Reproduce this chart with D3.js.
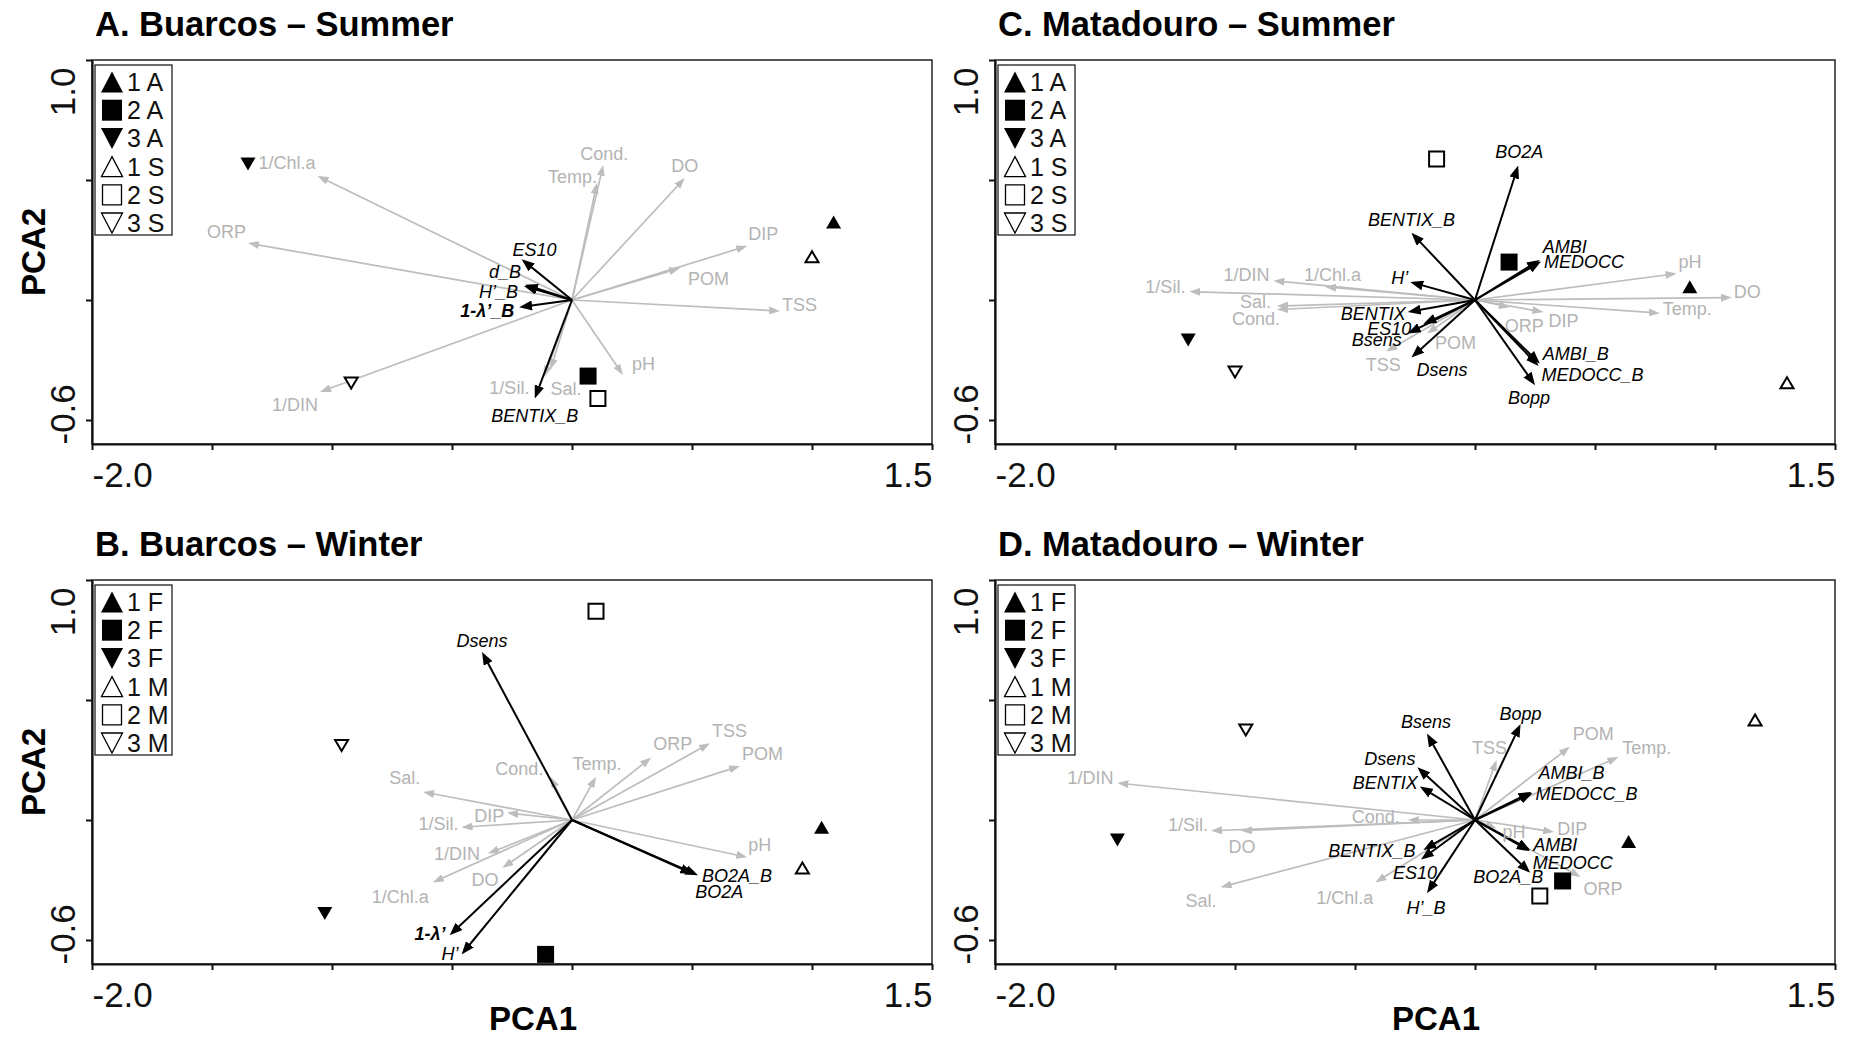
<!DOCTYPE html>
<html>
<head>
<meta charset="utf-8">
<script src="https://cdn.jsdelivr.net/npm/d3@7"></script>
<style>
body { margin: 0; background: #fff; }
text { font-family: "Liberation Sans", Arial, sans-serif; }
</style>
</head>
<body>
<div id="chart"></div>
<script>
var w = 1849;
var h = 1039;

// legend entries (site + season code)
var summerLegend = ["1 A", "2 A", "3 A", "1 S", "2 S", "3 S"];
var winterLegend = ["1 F", "2 F", "3 F", "1 M", "2 M", "3 M"];

// A. Buarcos - Summer
var buarcosSummerSites = [["1 A", 1.09, 0.325], ["2 A", 0.067, -0.317], ["3 A", -1.35, 0.567],
                          ["1 S", 1.0, 0.18], ["2 S", 0.108, -0.41], ["3 S", -0.92, -0.346]];
var buarcosSummerEnv = [["1/Chl.a", -1.06, 0.517], ["ORP", -1.35, 0.237], ["1/DIN", -1.05, -0.383],
                        ["1/Sil.", -0.115, -0.32], ["Sal.", -0.09, -0.29], ["Cond.", 0.13, 0.5625],
                        ["Temp.", 0.104, 0.4875], ["DO", 0.47, 0.508], ["DIP", 0.73, 0.225],
                        ["POM", 0.45, 0.133], ["TSS", 0.867, -0.046], ["pH", 0.2125, -0.3125]];
var buarcosSummerBio = [["ES10", -0.21, 0.17], ["d_B", -0.196, 0.064], ["H’_B", -0.2, 0.058],
                        ["1-λ’_B", -0.22, -0.03], ["BENTIX_B", -0.155, -0.41]];

// B. Buarcos - Winter
var buarcosWinterSites = [["1 F", 1.04, -0.03], ["2 F", -0.11, -0.56], ["3 F", -1.03, -0.39],
                          ["1 M", 0.96, -0.20], ["2 M", 0.10, 0.87], ["3 M", -0.96, 0.31]];
var buarcosWinterEnv = [["Sal.", -0.62, 0.117], ["Cond.", -0.09, 0.18], ["DIP", -0.27, 0.03],
                        ["1/Sil.", -0.46, -0.03], ["1/DIN", -0.35, -0.14], ["DO", -0.29, -0.2],
                        ["1/Chl.a", -0.58, -0.26], ["Temp.", 0.10, 0.18], ["ORP", 0.33, 0.26],
                        ["TSS", 0.575, 0.32], ["POM", 0.70, 0.225], ["pH", 0.73, -0.155]];
var buarcosWinterBio = [["Dsens", -0.375, 0.70], ["1-λ’", -0.51, -0.48], ["H’", -0.46, -0.56],
                        ["BO2A_B", 0.525, -0.23], ["BO2A", 0.505, -0.225]];

// C. Matadouro - Summer
var matadouroSummerSites = [["1 A", 0.895, 0.055], ["2 A", 0.142, 0.158], ["3 A", -1.195, -0.167],
                            ["1 S", 1.30, -0.345], ["2 S", -0.16, 0.587], ["3 S", -1.0, -0.30]];
var matadouroSummerEnv = [["1/Sil.", -1.19, 0.035], ["1/DIN", -0.84, 0.08], ["1/Chl.a", -0.625, 0.055],
                          ["Sal.", -0.825, -0.025], ["Cond.", -0.825, -0.04], ["TSS", -0.37, -0.215],
                          ["POM", -0.2, -0.14], ["ORP", 0.145, -0.03], ["DIP", 0.285, -0.05],
                          ["pH", 0.84, 0.11], ["DO", 1.07, 0.01], ["Temp.", 0.77, -0.055]];
var matadouroSummerBio = [["BO2A", 0.18, 0.56], ["BENTIX_B", -0.265, 0.28], ["AMBI", 0.27, 0.167],
                          ["MEDOCC", 0.275, 0.16], ["H’", -0.27, 0.075], ["BENTIX", -0.28, -0.05],
                          ["ES10", -0.215, -0.1], ["Bsens", -0.28, -0.14], ["Dsens", -0.265, -0.24],
                          ["AMBI_B", 0.27, -0.265], ["MEDOCC_B", 0.265, -0.275], ["Bopp", 0.25, -0.355]];

// D. Matadouro - Winter
var matadouroWinterSites = [["1 F", 0.64, -0.09], ["2 F", 0.365, -0.254], ["3 F", -1.49, -0.083],
                            ["1 M", 1.167, 0.417], ["2 M", 0.27, -0.317], ["3 M", -0.955, 0.375]];
var matadouroWinterEnv = [["1/DIN", -1.49, 0.154], ["Cond.", -0.28, 0.0], ["1/Sil.", -1.10, -0.045],
                          ["DO", -0.975, -0.045], ["Sal.", -1.06, -0.28], ["1/Chl.a", -0.415, -0.26],
                          ["TSS", 0.09, 0.25], ["POM", 0.395, 0.305], ["Temp.", 0.597, 0.262],
                          ["pH", 0.09, -0.035], ["DIP", 0.33, -0.05], ["ORP", 0.44, -0.237]];
var matadouroWinterBio = [["Bsens", -0.2, 0.36], ["Dsens", -0.24, 0.22], ["BENTIX", -0.23, 0.14],
                          ["Bopp", 0.19, 0.40], ["AMBI_B", 0.235, 0.117], ["MEDOCC_B", 0.24, 0.112],
                          ["BENTIX_B", -0.215, -0.125], ["ES10", -0.225, -0.165], ["H’_B", -0.20, -0.305],
                          ["AMBI", 0.23, -0.125], ["MEDOCC", 0.228, -0.13], ["BO2A_B", 0.23, -0.22]];

// label placement next to arrow tips: [anchor, dx, dy] in pixels
var buarcosSummerLabels = {
  "1/Chl.a": ["end", -2, -13], "ORP": ["end", -2, -12], "1/DIN": ["end", -2, 13],
  "1/Sil.": ["end", -15, 11], "Sal.": ["start", 0, 19], "Cond.": ["middle", 1, -12],
  "Temp.": ["end", 0, -7], "DO": ["middle", 0, -13], "DIP": ["start", 1, -13],
  "POM": ["start", 8, 10], "TSS": ["start", 2, -7], "pH": ["start", 9, -12],
  "ES10": ["middle", 13, -10], "d_B": ["end", -4, -13], "H’_B": ["end", -6, 5],
  "1-λ’_B": ["end", -5, 3], "BENTIX_B": ["middle", 0, 17]
};
var buarcosWinterLabels = {
  "Sal.": ["end", -3, -14], "Cond.": ["end", -7, -8], "DIP": ["end", -3, 3],
  "1/Sil.": ["end", -3, -4], "1/DIN": ["end", -8, 0], "DO": ["end", -4, 11],
  "1/Chl.a": ["end", -4, 14], "Temp.": ["middle", 1, -13], "ORP": ["start", 2, -14],
  "TSS": ["start", 2, -13], "POM": ["start", 2, -13], "pH": ["start", 1, -13],
  "Dsens": ["middle", 0, -12], "1-λ’": ["end", -4, -2], "H’": ["end", -3, -1],
  "BO2A_B": ["start", 4, 0], "BO2A": ["start", 2, 17]
};
var matadouroSummerLabels = {
  "1/Sil.": ["end", -4, -5], "1/DIN": ["end", -4, -6], "1/Chl.a": ["start", -21, -12],
  "Sal.": ["end", -6, -5], "Cond.": ["end", 3, 9], "TSS": ["middle", -3, 13],
  "POM": ["start", 8, 9], "ORP": ["start", -5, 18], "DIP": ["start", 5, 8],
  "pH": ["start", 2, -12], "DO": ["start", 2, -6], "Temp.": ["start", 3, -5],
  "BO2A": ["middle", 1, -14], "BENTIX_B": ["middle", 0, -13], "AMBI": ["start", 3, -13],
  "MEDOCC": ["start", 3, 0], "H’": ["end", -2, -5], "BENTIX": ["end", -2, 1],
  "ES10": ["end", -12, 4], "Bsens": ["end", -6, 6], "Dsens": ["start", 5, 12],
  "AMBI_B": ["start", 3, -10], "MEDOCC_B": ["start", 3, 8], "Bopp": ["middle", -6, 12]
};
var matadouroWinterLabels = {
  "1/DIN": ["end", -4, -6], "Cond.": ["end", -8, -4], "1/Sil.": ["end", -3, -6],
  "DO": ["middle", 1, 16], "Sal.": ["end", -4, 13], "1/Chl.a": ["end", -2, 15],
  "TSS": ["middle", -7, -13], "POM": ["start", 3, -13], "Temp.": ["start", 4, -10],
  "pH": ["start", 6, 3], "DIP": ["start", 3, -4], "ORP": ["start", 3, 12],
  "Bsens": ["middle", -1, -12], "Dsens": ["end", -2, -9], "BENTIX": ["end", -2, -4],
  "Bopp": ["middle", 0, -11], "AMBI_B": ["start", 7, -19], "MEDOCC_B": ["start", 3, 0],
  "BENTIX_B": ["end", -8, 0], "ES10": ["middle", -6, 13], "H’_B": ["middle", -1, 14],
  "AMBI": ["start", 3, -6], "MEDOCC": ["start", 3, 11], "BO2A_B": ["middle", -22, 4]
};

var panels = [
  {title: "A. Buarcos – Summer", left: 92, top: 60, sites: buarcosSummerSites, env: buarcosSummerEnv,
   bio: buarcosSummerBio, labels: buarcosSummerLabels, legend: summerLegend, yTitle: true, xTitle: false},
  {title: "B. Buarcos – Winter", left: 92, top: 580, sites: buarcosWinterSites, env: buarcosWinterEnv,
   bio: buarcosWinterBio, labels: buarcosWinterLabels, legend: winterLegend, yTitle: true, xTitle: true},
  {title: "C. Matadouro – Summer", left: 995, top: 60, sites: matadouroSummerSites, env: matadouroSummerEnv,
   bio: matadouroSummerBio, labels: matadouroSummerLabels, legend: summerLegend, yTitle: false, xTitle: false},
  {title: "D. Matadouro – Winter", left: 995, top: 580, sites: matadouroWinterSites, env: matadouroWinterEnv,
   bio: matadouroWinterBio, labels: matadouroWinterLabels, legend: winterLegend, yTitle: false, xTitle: true}
];

var grey = "#bdbdbd";
var greyText = "#b3b3b3";
var plotW = 840;
var plotH = 384;

var svg = d3.select("#chart")
            .append("svg")
            .attr("width", w)
            .attr("height", h);

svg.append("rect").attr("width", w).attr("height", h).attr("fill", "#fff");

// arrow heads
var defs = svg.append("defs");
[["head-grey", grey, 11, 4], ["head-black", "#000", 13, 5]].forEach(function(m) {
    defs.append("marker")
        .attr("id", m[0])
        .attr("viewBox", "0 0 " + m[2] + " " + (2 * m[3]))
        .attr("refX", m[2] - 7)
        .attr("refY", m[3])
        .attr("markerWidth", m[2])
        .attr("markerHeight", 2 * m[3])
        .attr("markerUnits", "userSpaceOnUse")
        .attr("orient", "auto")
        .append("path")
        .attr("d", "M0,0L" + m[2] + "," + m[3] + "L0," + (2 * m[3]) + "Z")
        .attr("fill", m[1]);
});

// site 1 = triangle up, 2 = square, 3 = triangle down
function symbolPath(site, sw, sh) {
    if (site == "1") {
        return "M0," + (-sh / 2) + "L" + (sw / 2) + "," + (sh / 2) + "L" + (-sw / 2) + "," + (sh / 2) + "Z";
    } else if (site == "3") {
        return "M0," + (sh / 2) + "L" + (sw / 2) + "," + (-sh / 2) + "L" + (-sw / 2) + "," + (-sh / 2) + "Z";
    }
    return "M" + (-sw / 2) + "," + (-sh / 2) + "h" + sw + "v" + sh + "h" + (-sw) + "Z";
}

function drawArrows(g, list, x, y, p, isBio) {
    var x0 = x(0), y0 = y(0);
    g.selectAll(null)
        .data(list)
        .enter()
        .append("line")
        .attr("x1", x0)
        .attr("y1", y0)
        .attr("x2", function(d) {
            var dx = x(d[1]) - x0, dy = y(d[2]) - y0, len = Math.sqrt(dx * dx + dy * dy);
            return x(d[1]) - 7 * dx / len;
        })
        .attr("y2", function(d) {
            var dx = x(d[1]) - x0, dy = y(d[2]) - y0, len = Math.sqrt(dx * dx + dy * dy);
            return y(d[2]) - 7 * dy / len;
        })
        .attr("stroke", isBio ? "#000" : grey)
        .attr("stroke-width", isBio ? 2 : 1.7)
        .attr("marker-end", isBio ? "url(#head-black)" : "url(#head-grey)");
}

function drawLabels(g, list, x, y, p, isBio) {
    g.selectAll(null)
        .data(list)
        .enter()
        .append("text")
        .text(function(d) { return d[0]; })
        .attr("x", function(d) { var o = p.labels[d[0]] || ["start", 3, 0]; return x(d[1]) + o[1]; })
        .attr("y", function(d) { var o = p.labels[d[0]] || ["start", 3, 0]; return y(d[2]) + o[2] + 6.5; })
        .attr("text-anchor", function(d) { var o = p.labels[d[0]] || ["start", 3, 0]; return o[0]; })
        .attr("font-size", "18px")
        .attr("font-style", isBio ? "italic" : "normal")
        .attr("font-weight", function(d) { return d[0].indexOf("λ") >= 0 ? "bold" : "normal"; })
        .attr("fill", isBio ? "#000" : greyText);
}

function drawPanel(p) {
    var x = d3.scaleLinear().domain([-2.0, 1.5]).range([p.left, p.left + plotW]);
    var y = d3.scaleLinear().domain([-0.6, 1.0]).range([p.top + plotH, p.top]);
    var g = svg.append("g");

    // title
    g.append("text")
        .text(p.title)
        .attr("x", p.left + 3)
        .attr("y", p.top - 24)
        .attr("font-size", "34.5px")
        .attr("font-weight", "bold");

    // frame
    g.append("rect")
        .attr("x", x(-2.0))
        .attr("y", y(1.0))
        .attr("width", x(1.5) - x(-2.0))
        .attr("height", y(-0.6) - y(1.0))
        .attr("fill", "none")
        .attr("stroke", "#222")
        .attr("stroke-width", 1.5);

    // axes with ticks every 0.5
    var xAxis = d3.axisBottom(x).tickValues(d3.range(-2, 1.6, 0.5)).tickFormat("").tickSize(6).tickSizeOuter(0);
    var yAxis = d3.axisLeft(y).tickValues([-0.5, 0, 0.5, 1.0]).tickFormat("").tickSize(6).tickSizeOuter(0);
    var gx = g.append("g").attr("transform", "translate(0," + y(-0.6) + ")").call(xAxis);
    var gy = g.append("g").attr("transform", "translate(" + x(-2.0) + ",0)").call(yAxis);
    [gx, gy].forEach(function(a) {
        a.select(".domain").attr("stroke-width", 2.2).attr("stroke", "#111");
        a.selectAll(".tick line").attr("stroke-width", 2).attr("stroke", "#111");
    });

    // end labels of the axes
    var fmt = function(d) { return d.toFixed(1); };
    var xEnds = g.append("g").attr("transform", "translate(0," + y(-0.6) + ")")
        .call(d3.axisBottom(x).tickValues([-2.0, 1.5]).tickFormat(fmt).tickSize(0).tickPadding(18));
    xEnds.select(".domain").remove();
    xEnds.selectAll("text")
        .attr("font-size", "35px")
        .attr("fill", "#111")
        .attr("text-anchor", function(d) { return d < 0 ? "start" : "end"; });

    var yEnds = g.append("g").attr("transform", "translate(" + x(-2.0) + ",0)")
        .call(d3.axisLeft(y).tickValues([-0.6, 1.0]).tickFormat(fmt).tickSize(0));
    yEnds.select(".domain").remove();
    yEnds.selectAll("text")
        .attr("font-size", "35px")
        .attr("fill", "#111")
        .attr("dy", 0)
        .attr("x", function(d) { return d < 0 ? 0 : -7; })
        .attr("transform", "translate(-17,0) rotate(-90)")
        .attr("text-anchor", function(d) { return d < 0 ? "start" : "end"; });

    if (p.yTitle) {
        g.append("text")
            .text("PCA2")
            .attr("transform", "translate(45," + (p.top + plotH / 2) + ") rotate(-90)")
            .attr("text-anchor", "middle")
            .attr("font-size", "33px")
            .attr("font-weight", "bold");
    }
    if (p.xTitle) {
        g.append("text")
            .text("PCA1")
            .attr("x", p.left + plotW / 2 + 21)
            .attr("y", 1030)
            .attr("text-anchor", "middle")
            .attr("font-size", "33px")
            .attr("font-weight", "bold");
    }

    // vectors: environment (grey) under biological (black)
    drawArrows(g, p.env, x, y, p, false);
    drawArrows(g, p.bio, x, y, p, true);
    drawLabels(g, p.env, x, y, p, false);
    drawLabels(g, p.bio, x, y, p, true);

    // sampling sites
    g.selectAll(null)
        .data(p.sites)
        .enter()
        .append("path")
        .attr("transform", function(d) { return "translate(" + x(d[1]) + "," + y(d[2]) + ")"; })
        .attr("d", function(d) {
            var filled = p.legend.indexOf(d[0]) < 3;
            var site = d[0].charAt(0);
            if (site == "2") return filled ? symbolPath(site, 17, 17) : symbolPath(site, 15, 15);
            return filled ? symbolPath(site, 15, 13) : symbolPath(site, 13, 11);
        })
        .attr("fill", function(d) { return p.legend.indexOf(d[0]) < 3 ? "#000" : "#fff"; })
        .attr("stroke", "#000")
        .attr("stroke-width", function(d) { return p.legend.indexOf(d[0]) < 3 ? 0 : 2; });

    // legend
    var lg = g.append("g").attr("transform", "translate(" + (p.left + 3) + "," + (p.top + 5) + ")");
    lg.append("rect")
        .attr("width", 77)
        .attr("height", 170)
        .attr("fill", "#fff")
        .attr("stroke", "#222")
        .attr("stroke-width", 1.3);
    var rowY = d3.scalePoint().domain(p.legend).range([17, 158]);
    var rows = lg.selectAll(null)
        .data(p.legend)
        .enter()
        .append("g")
        .attr("transform", function(d) { return "translate(0," + rowY(d) + ")"; });
    rows.append("path")
        .attr("transform", "translate(17,0)")
        .attr("d", function(d, i) {
            var site = d.charAt(0);
            if (site == "2") return i < 3 ? symbolPath(site, 20, 21) : symbolPath(site, 19, 20);
            return i < 3 ? symbolPath(site, 22, 21) : symbolPath(site, 21, 20);
        })
        .attr("fill", function(d, i) { return i < 3 ? "#000" : "#fff"; })
        .attr("stroke", "#000")
        .attr("stroke-width", function(d, i) { return i < 3 ? 0 : 1.3; });
    rows.append("text")
        .text(function(d) { return d; })
        .attr("x", 32)
        .attr("y", 9)
        .attr("font-size", "25px")
        .attr("fill", "#111");
}

panels.forEach(drawPanel);
</script>
</body>
</html>
